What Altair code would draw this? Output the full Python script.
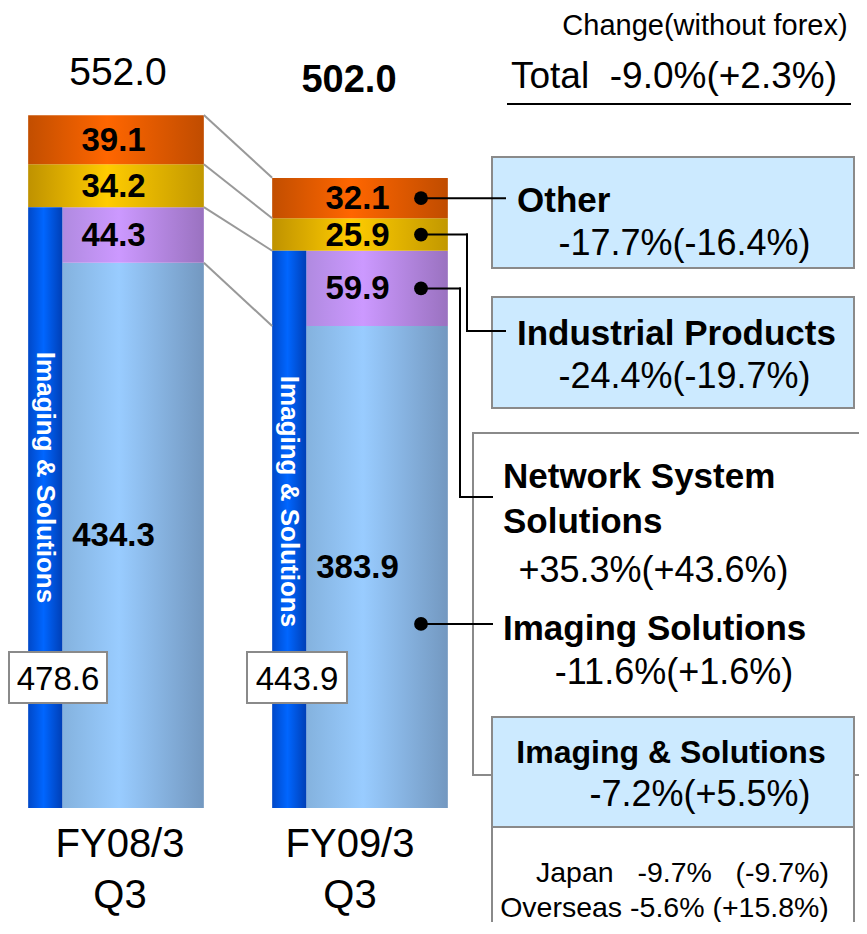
import altair as alt
import pandas as pd

# ---------------- data ----------------
periods = ["FY08/3 Q3", "FY09/3 Q3"]
period_line1 = ["FY08/3", "FY09/3"]
period_line2 = ["Q3", "Q3"]
segment_names = ["Imaging Solutions", "Network System Solutions", "Industrial Products", "Other"]
imaging_solutions = [434.3, 383.9]
network_system = [44.3, 59.9]
industrial_products = [34.2, 25.9]
other = [39.1, 32.1]
total_values = [552.0, 502.0]
total_labels = ["552.0", "502.0"]
ins_totals = [478.6, 443.9]
ins_labels = ["478.6", "443.9"]

header_text = "Change(without forex)"
total_change = "Total\u00a0\u00a0-9.0%(+2.3%)"
titles = ["Other", "Industrial Products", "Network System", "Solutions", "Imaging Solutions", "Imaging & Solutions"]
changes = ["-17.7%(-16.4%)", "-24.4%(-19.7%)", "+35.3%(+43.6%)", "-11.6%(+1.6%)", "-7.2%(+5.5%)"]
regional = ["Japan\u00a0\u00a0\u00a0-9.7%\u00a0\u00a0\u00a0(-9.7%)", "Overseas -5.6% (+15.8%)"]
strip_label = "Imaging & Solutions"

# ---------------- layout ----------------
W, H = 851, 914
OFF = 8                      # page margin, reference pixel -> plot pixel
PX_PER_UNIT = 1.2554
Y0 = 800                     # plot y of value 0
X_C0, X_STEP = 108, 244      # plot x of first bar centre, distance between bars
HALF, STRIP = 0.36, 0.14
FONT = "Liberation Sans, Arial, Helvetica, sans-serif"

x_scale = alt.Scale(domain=[-X_C0 / X_STEP, (W - X_C0) / X_STEP], nice=False, zero=False)
y_scale = alt.Scale(domain=[-(H - Y0) / PX_PER_UNIT, Y0 / PX_PER_UNIT], nice=False, zero=False)


def P(v):
    return v - OFF


def grad(stops):
    return alt.Gradient(gradient="linear", x1=0, x2=1, y1=0, y2=0,
                        stops=[alt.GradientStop(offset=o, color=c) for o, c in stops])


seg_grad = {
    "Imaging Solutions": grad([(0, "#84b2de"), (0.4, "#99ccff"), (1, "#7398c0")]),
    "Network System Solutions": grad([(0, "#b08ae0"), (0.4, "#cc99ff"), (1, "#9a72c0")]),
    "Industrial Products": grad([(0, "#bf9200"), (0.45, "#ffcc00"), (1, "#c29800")]),
    "Other": grad([(0, "#c24e00"), (0.45, "#ff6600"), (1, "#c04c00")]),
}
strip_grad = grad([(0, "#0048c8"), (0.45, "#0066ff"), (1, "#003fb6")])

# ---------------- tables ----------------
rows = []
for i, p in enumerate(periods):
    vals = [imaging_solutions[i], network_system[i], industrial_products[i], other[i]]
    start = 0.0
    for name, v in zip(segment_names, vals):
        inner = name in ("Imaging Solutions", "Network System Solutions")
        rows.append(dict(period=p, idx=i, seg=name, y0=start, y1=start + v, mid=start + v / 2,
                         label=f"{v:.1f}", x0=i - HALF + (STRIP if inner else 0), x1=i + HALF,
                         lx=i - 0.01))
        start += v
seg_df = pd.DataFrame(rows)

strip_df = pd.DataFrame({
    "idx": [0, 1],
    "x0": [i - HALF for i in range(2)],
    "x1": [i - HALF + STRIP for i in range(2)],
    "y0": [0, 0],
    "y1": ins_totals,
    "tx": [i - HALF + STRIP / 2 for i in range(2)],
    "ty": [v * 0.55 for v in ins_totals],
    "t": [strip_label, strip_label],
})

# boundaries between the bars
b1 = [total_values[0], sum([imaging_solutions[0], network_system[0], industrial_products[0]]),
      ins_totals[0], imaging_solutions[0]]
b2 = [total_values[1], sum([imaging_solutions[1], network_system[1], industrial_products[1]]),
      ins_totals[1], imaging_solutions[1]]
conn_df = pd.DataFrame({"x": [0 + HALF] * 4, "x2": [1 - HALF] * 4, "y": b1, "y2": b2})

# dots on the second bar
dot_frac = {"Imaging Solutions": 0.382}
dots = []
for r in rows:
    if r["idx"] == 1:
        f = dot_frac.get(r["seg"], 0.5)
        dots.append(dict(seg=r["seg"], dx=1 + 0.25, dy=r["y0"] + (r["y1"] - r["y0"]) * f))
dot_df = pd.DataFrame(dots)

X = lambda f: alt.X(f, scale=x_scale, axis=None)
Y = lambda f: alt.Y(f, scale=y_scale, axis=None)

layers = []

# segments
for name in segment_names:
    layers.append(
        alt.Chart(seg_df).transform_filter(alt.datum.seg == name)
        .mark_rect(color=seg_grad[name], strokeWidth=0)
        .encode(x=X("x0:Q"), x2="x1:Q", y=Y("y0:Q"), y2="y1:Q")
    )

# imaging & solutions strip
layers.append(alt.Chart(strip_df).mark_rect(color=strip_grad, strokeWidth=0)
              .encode(x=X("x0:Q"), x2="x1:Q", y=Y("y0:Q"), y2="y1:Q"))
layers.append(alt.Chart(strip_df).mark_text(angle=90, font=FONT, fontSize=26, fontWeight="bold",
                                            color="white", align="center", baseline="middle")
              .encode(x=X("tx:Q"), y=Y("ty:Q"), text="t:N"))

# grey connecting lines
layers.append(alt.Chart(conn_df).mark_rule(color="#999999", strokeWidth=2)
              .encode(x=X("x:Q"), x2="x2:Q", y=Y("y:Q"), y2="y2:Q"))

# value labels in the bars
layers.append(alt.Chart(seg_df).mark_text(font=FONT, fontSize=33, fontWeight="bold", color="black",
                                          align="center", baseline="middle", dy=1)
              .encode(x=X("lx:Q"), y=Y("mid:Q"), text="label:N"))

# totals above bars
tot_df = pd.DataFrame({"idx": [0, 1], "t": total_labels,
                       "x": [0 + 2 / X_STEP, 1 - 11 / X_STEP]})
layers.append(alt.Chart(tot_df).transform_filter(alt.datum.idx == 0)
              .mark_text(font=FONT, fontSize=39, align="center", baseline="alphabetic")
              .encode(x=X("x:Q"), y=alt.value(P(85)), text="t:N"))
layers.append(alt.Chart(tot_df).transform_filter(alt.datum.idx == 1)
              .mark_text(font=FONT, fontSize=38, fontWeight="bold", align="center", baseline="alphabetic")
              .encode(x=X("x:Q"), y=alt.value(P(92)), text="t:N"))

# period labels
per_df = pd.DataFrame({"l1": period_line1, "l2": period_line2,
                       "x": [0 + 4 / X_STEP, 1 - 10 / X_STEP]})
layers.append(alt.Chart(per_df).mark_text(font=FONT, fontSize=40, align="center", baseline="alphabetic")
              .encode(x=X("x:Q"), y=alt.value(P(857)), text="l1:N"))
layers.append(alt.Chart(per_df).mark_text(font=FONT, fontSize=40, align="center", baseline="alphabetic")
              .encode(x=X("x:Q"), y=alt.value(P(908)), text="l2:N"))

# boxed Imaging & Solutions totals
box_pos = [(9, 107), (247, 347)]
for i in range(2):
    d = pd.DataFrame({"t": [ins_labels[i]]})
    x0, x1 = box_pos[i]
    layers.append(alt.Chart(d).mark_rect(fill="white", stroke="#8a8a8a", strokeWidth=2)
                  .encode(x=alt.value(P(x0)), x2=alt.value(P(x1)), y=alt.value(P(652)), y2=alt.value(P(703))))
    layers.append(alt.Chart(d).mark_text(font=FONT, fontSize=33, align="center", baseline="alphabetic")
                  .encode(x=alt.value(P((x0 + x1) / 2)), y=alt.value(P(690)), text="t:N"))

# annotation boxes (reference pixel coords)
boxes = [
    (492, 157, 854, 268, "#cceaff"),
    (492, 297, 854, 408, "#cceaff"),
    (473, 433, 900, 775, None),
    (492, 717, 854, 827, "#cceaff"),
    (492, 827, 854, 960, "#ffffff"),
]
one = pd.DataFrame({"k": [0]})
for x0, y0, x1, y1, fill in boxes:
    kw = dict(stroke="#8a8a8a", strokeWidth=2)
    if fill is None:
        kw.update(fill="white", fillOpacity=0)
    else:
        kw.update(fill=fill)
    layers.append(alt.Chart(one).mark_rect(**kw)
                  .encode(x=alt.value(P(x0)), x2=alt.value(P(x1)), y=alt.value(P(y0)), y2=alt.value(P(y1))))

# leader lines
leaders = {
    "Other": (None, None, 505),
    "Industrial Products": (467, 331, 505),
    "Network System Solutions": (460, 497, 492),
    "Imaging Solutions": (None, None, 492),
}
for name, (tx, ty, ex) in leaders.items():
    base = alt.Chart(dot_df).transform_filter(alt.datum.seg == name)
    rk = dict(color="black", strokeWidth=2, strokeCap="square")
    if tx is None:
        layers.append(base.mark_rule(**rk).encode(x=X("dx:Q"), x2=alt.value(P(ex)), y=Y("dy:Q")))
    else:
        layers.append(base.mark_rule(**rk).encode(x=X("dx:Q"), x2=alt.value(P(tx)), y=Y("dy:Q")))
        layers.append(base.mark_rule(**rk).encode(x=alt.value(P(tx)), y=Y("dy:Q"), y2=alt.value(P(ty))))
        layers.append(base.mark_rule(**rk).encode(x=alt.value(P(tx)), x2=alt.value(P(ex)), y=alt.value(P(ty))))

layers.append(alt.Chart(dot_df).mark_point(shape="circle", filled=True, color="black", size=190, opacity=1)
              .encode(x=X("dx:Q"), y=Y("dy:Q")))

# total underline
layers.append(alt.Chart(one).mark_rule(color="black", strokeWidth=2)
              .encode(x=alt.value(P(507)), x2=alt.value(P(851)), y=alt.value(P(104))))

# annotation texts: (text, x, baseline y, size, bold, align)
texts = [
    (header_text, 705, 35, 29, False, "center"),
    (total_change, 674, 88, 37, False, "center"),
    (titles[0], 517, 212, 35, True, "left"),
    (changes[0], 684.5, 255, 36, False, "center"),
    (titles[1], 517, 345, 35, True, "left"),
    (changes[1], 684.5, 388, 36, False, "center"),
    (titles[2], 503, 488, 35, True, "left"),
    (titles[3], 503, 533, 35, True, "left"),
    (changes[2], 653.5, 582, 36, False, "center"),
    (titles[4], 503, 640, 35, True, "left"),
    (changes[3], 674, 684, 36, False, "center"),
    (titles[5], 671, 763, 32, True, "center"),
    (changes[4], 700, 806, 36, False, "center"),
    (regional[0], 682.5, 882, 28.5, False, "center"),
    (regional[1], 664.5, 917, 28.5, False, "center"),
]
for t, x, y, s, b, a in texts:
    d = pd.DataFrame({"t": [t]})
    mk = dict(font=FONT, fontSize=s, align=a, baseline="alphabetic", color="black")
    if b:
        mk["fontWeight"] = "bold"
    layers.append(alt.Chart(d).mark_text(**mk).encode(x=alt.value(P(x)), y=alt.value(P(y)), text="t:N"))

chart = (alt.layer(*layers)
         .properties(width=W, height=H, padding=0, autosize="none", background="white")
         .configure_view(stroke=None))

chart.save("out.html", embed_options={"renderer": "svg", "actions": False})
